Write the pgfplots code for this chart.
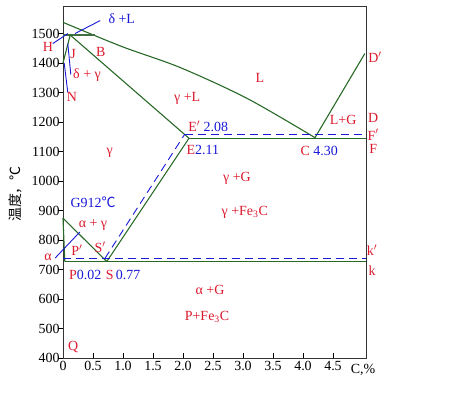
\documentclass[border=0pt]{standalone}
\usepackage{pgfplots}
\pgfplotsset{compat=1.18}
\usepackage{fontspec}
\setmainfont{Liberation Serif}
\newfontfamily\cjk{Noto Sans CJK SC}
\definecolor{lgreen}{RGB}{40,105,40}
\definecolor{lred}{RGB}{220,25,45}
\definecolor{lblue}{RGB}{25,25,215}
\tikzset{lab/.style={font=\fontsize{14}{16}\selectfont}}
\begin{document}
\begin{tikzpicture}
\path[use as bounding box] (-63bp,-36bp) rectangle (394bp,358bp);
\begin{axis}[at={(0,0)}, anchor=south west, scale only axis, width=303bp, height=351bp,
  xmin=0, xmax=5.05, ymin=400, ymax=1590, clip=false,
  xtick={0,0.5,...,4.5}, xticklabels={0,0.5,1.0,1.5,2.0,2.5,3.0,3.5,4.0,4.5},
  ytick={400,500,...,1500},
  xtick pos=left, ytick pos=left,
  tick align=inside, major tick length=5bp,
  ytick style={xshift=-5bp},
  tick style={black, line width=0.8bp},
  /pgf/number format/assume math mode=true,
  /pgf/number format/1000 sep={},
  tick label style={font=\fontsize{14}{16}\selectfont},
  axis line style={black!80, line width=1bp},
]
% green phase boundaries
\addplot[lgreen, line width=1.1bp, smooth] coordinates {(0,1538) (0.98,1456) (1.95,1385) (3.07,1280) (4.2,1147)};
\addplot[lgreen, line width=1.1bp] coordinates {(4.2,1147) (5.03,1432)};
\addplot[lgreen!70!gray, line width=1.3bp] coordinates {(0,1495) (0.53,1495)};
\addplot[lgreen, line width=1.1bp] coordinates {(0,1400) (0.12,1495) (2.1,1145)};
\addplot[lgreen, line width=1.1bp] coordinates {(2.1,1145) (5.05,1145)};
\addplot[lgreen, line width=1.1bp] coordinates {(2.1,1145) (0.73,727)};
\addplot[lgreen, line width=1.1bp] coordinates {(0,874) (0.73,727)};
\addplot[lgreen, line width=1.1bp] coordinates {(0,874) (0.03,727)};
\addplot[lgreen, line width=1.1bp] coordinates {(0.03,727) (5.05,727)};
% blue dashed (stable system)
\addplot[lblue, line width=0.9bp, dash pattern=on 8bp off 5bp] coordinates {(0,738) (5.05,738)};
\addplot[lblue, line width=0.9bp, dash pattern=on 8bp off 5bp] coordinates {(0.7,738) (2.03,1159)};
\addplot[lblue, line width=0.9bp, dash pattern=on 8bp off 5bp] coordinates {(2.03,1159) (5.05,1159)};
% blue leader lines
\addplot[lblue, line width=0.9bp] coordinates {(0.62,1544) (0.2,1500)};
\addplot[lblue, line width=0.9bp] coordinates {(-0.17,1466) (0.08,1500)};
\addplot[lblue, line width=0.9bp] coordinates {(0.08,1466) (0.13,1361)};
\addplot[lblue, line width=0.9bp] coordinates {(0.02,1400) (0.08,1300)};
\addplot[lblue, line width=0.9bp] coordinates {(-0.13,739) (0.28,827)};
% labels
\node[lab,lblue] at (axis cs:0.98,1551) {δ +L};
\node[lab,lred] at (axis cs:-0.25,1456) {H};
\node[lab,lred] at (axis cs:0.17,1432) {J};
\node[lab,lred] at (axis cs:0.63,1436) {B};
\node[lab,lred] at (axis cs:0.4,1358) {δ + γ};
\node[lab,lred] at (axis cs:0.15,1284) {N};
\node[lab,lred] at (axis cs:3.28,1351) {L};
\node[lab,lred] at (axis cs:2.07,1280) {γ +L};
\node[lab] at (axis cs:2.42,1185) {\textcolor{lred}{E$'$} \textcolor{lblue}{2.08}};
\node[lab] at (axis cs:2.33,1104) {\textcolor{lred}{E}\textcolor{lblue}{2.11}};
\node[lab] at (axis cs:4.27,1101) {\textcolor{lred}{C} \textcolor{lblue}{4.30}};
\node[lab,lred] at (axis cs:4.67,1206) {L+G};
\node[lab,lred] at (axis cs:5.2,1419) {D$'$};
\node[lab,lred] at (axis cs:5.17,1214) {D};
\node[lab,lred] at (axis cs:5.17,1157) {F$'$};
\node[lab,lred] at (axis cs:5.17,1108) {F};
\node[lab,lred] at (axis cs:0.78,1097) {γ};
\node[lab,lred] at (axis cs:2.9,1009) {γ +G};
\node[lab,lred] at (axis cs:3.03,894) {γ +Fe\textsubscript{3}C};
\node[lab,lblue] at (axis cs:0.5,928) {G912{\cjk ℃}};
\node[lab,lred] at (axis cs:0.5,850) {α + γ};
\node[lab,lred] at (axis cs:0.62,776) {S$'$};
\node[lab,lred] at (axis cs:0.23,766) {P$'$};
\node[lab,lred] at (axis cs:-0.25,742) {α};
\node[lab] at (axis cs:0.37,681) {\textcolor{lred}{P}\textcolor{lblue}{0.02}};
\node[lab] at (axis cs:1.0,681) {\textcolor{lred}{S}\,\textcolor{lblue}{0.77}};
\node[lab,lred] at (axis cs:5.15,766) {k$'$};
\node[lab,lred] at (axis cs:5.15,695) {k};
\node[lab,lred] at (axis cs:2.45,630) {α +G};
\node[lab,lred] at (axis cs:2.4,539) {P+Fe\textsubscript{3}C};
\node[lab,lred] at (axis cs:0.17,437) {Q};
\node[lab] at (axis cs:5.0,359) {C,\%};
\node[lab,rotate=90] at (axis cs:-0.8,956) {{\cjk 温度，℃}};
\end{axis}
\end{tikzpicture}
\end{document}
